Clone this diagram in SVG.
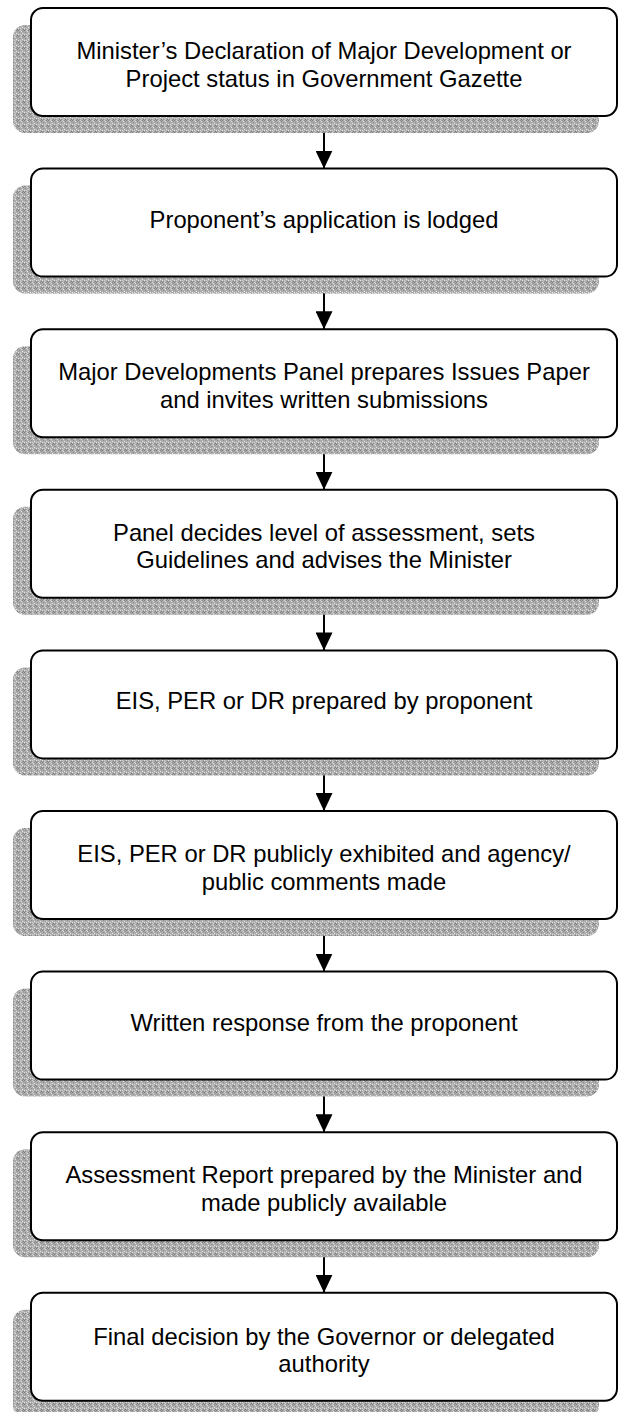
<svg xmlns="http://www.w3.org/2000/svg" width="626" height="1412" viewBox="0 0 626 1412">
<style>
.box{fill:#ffffff;stroke:#000000;stroke-width:2}
.sh{fill:url(#tex)}
.t{font-family:"Liberation Sans",Arial,sans-serif;font-size:23.8px;fill:#000000;text-anchor:middle}
.c{stroke:#000000;stroke-width:2;fill:none}
</style>
<defs>
<pattern id="tex" width="6" height="6" patternUnits="userSpaceOnUse">
<rect width="6" height="6" fill="#acacac"/>
<rect x="0" y="0" width="1" height="1" fill="#7c7c7c"/>
<rect x="3" y="1" width="1" height="1" fill="#e0e0e0"/>
<rect x="1" y="2" width="1" height="1" fill="#8c8c8c"/>
<rect x="4" y="3" width="1" height="1" fill="#e8e8e8"/>
<rect x="2" y="4" width="1" height="1" fill="#d4d4d4"/>
<rect x="5" y="5" width="1" height="1" fill="#7c7c7c"/>
<rect x="5" y="1" width="1" height="1" fill="#949494"/>
<rect x="0" y="4" width="1" height="1" fill="#e4e4e4"/>
<rect x="3" y="5" width="1" height="1" fill="#c8c8c8"/>
<rect x="2" y="0" width="1" height="1" fill="#d0d0d0"/>
<rect x="4" y="0" width="1" height="1" fill="#888888"/>
<rect x="1" y="5" width="1" height="1" fill="#909090"/>
</pattern>
<marker id="ah" markerWidth="18" markerHeight="17" refX="18" refY="8.5" orient="auto" markerUnits="userSpaceOnUse">
<path d="M0,0 L18,8.5 L0,17 Z" fill="#000000"/>
</marker>
</defs>
<g id="connectors">
<line class="c" x1="324" y1="116" x2="324" y2="168.6" marker-end="url(#ah)"/>
<line class="c" x1="324" y1="276.6" x2="324" y2="329.2" marker-end="url(#ah)"/>
<line class="c" x1="324" y1="437.2" x2="324" y2="489.8" marker-end="url(#ah)"/>
<line class="c" x1="324" y1="597.8" x2="324" y2="650.4" marker-end="url(#ah)"/>
<line class="c" x1="324" y1="758.4" x2="324" y2="811" marker-end="url(#ah)"/>
<line class="c" x1="324" y1="919" x2="324" y2="971.6" marker-end="url(#ah)"/>
<line class="c" x1="324" y1="1079.6" x2="324" y2="1132.2" marker-end="url(#ah)"/>
<line class="c" x1="324" y1="1240.2" x2="324" y2="1292.8" marker-end="url(#ah)"/>
</g>
<g id="n1">
<rect class="sh" x="13" y="25" width="586" height="108" rx="12"/>
<rect class="box" x="31" y="8" width="586" height="108" rx="12"/>
<text class="t" x="324" y="59">Minister’s Declaration of Major Development or</text>
<text class="t" x="324" y="86.5">Project status in Government Gazette</text>
</g>
<g id="n2">
<rect class="sh" x="13" y="185.6" width="586" height="108" rx="12"/>
<rect class="box" x="31" y="168.6" width="586" height="108" rx="12"/>
<text class="t" x="324" y="227.6">Proponent’s application is lodged</text>
</g>
<g id="n3">
<rect class="sh" x="13" y="346.2" width="586" height="108" rx="12"/>
<rect class="box" x="31" y="329.2" width="586" height="108" rx="12"/>
<text class="t" x="324" y="380.2">Major Developments Panel prepares Issues Paper</text>
<text class="t" x="324" y="407.7">and invites written submissions</text>
</g>
<g id="n4">
<rect class="sh" x="13" y="506.8" width="586" height="108" rx="12"/>
<rect class="box" x="31" y="489.8" width="586" height="108" rx="12"/>
<text class="t" x="324" y="540.8">Panel decides level of assessment, sets</text>
<text class="t" x="324" y="568.3">Guidelines and advises the Minister</text>
</g>
<g id="n5">
<rect class="sh" x="13" y="667.4" width="586" height="108" rx="12"/>
<rect class="box" x="31" y="650.4" width="586" height="108" rx="12"/>
<text class="t" x="324" y="709.4">EIS, PER or DR prepared by proponent</text>
</g>
<g id="n6">
<rect class="sh" x="13" y="828" width="586" height="108" rx="12"/>
<rect class="box" x="31" y="811" width="586" height="108" rx="12"/>
<text class="t" x="324" y="862">EIS, PER or DR publicly exhibited and agency/</text>
<text class="t" x="324" y="889.5">public comments made</text>
</g>
<g id="n7">
<rect class="sh" x="13" y="988.6" width="586" height="108" rx="12"/>
<rect class="box" x="31" y="971.6" width="586" height="108" rx="12"/>
<text class="t" x="324" y="1030.6">Written response from the proponent</text>
</g>
<g id="n8">
<rect class="sh" x="13" y="1149.2" width="586" height="108" rx="12"/>
<rect class="box" x="31" y="1132.2" width="586" height="108" rx="12"/>
<text class="t" x="324" y="1183.2">Assessment Report prepared by the Minister and</text>
<text class="t" x="324" y="1210.7">made publicly available</text>
</g>
<g id="n9">
<rect class="sh" x="13" y="1309.8" width="586" height="108" rx="12"/>
<rect class="box" x="31" y="1292.8" width="586" height="108" rx="12"/>
<text class="t" x="324" y="1344.8">Final decision by the Governor or delegated</text>
<text class="t" x="324" y="1372.3">authority</text>
</g>
</svg>
